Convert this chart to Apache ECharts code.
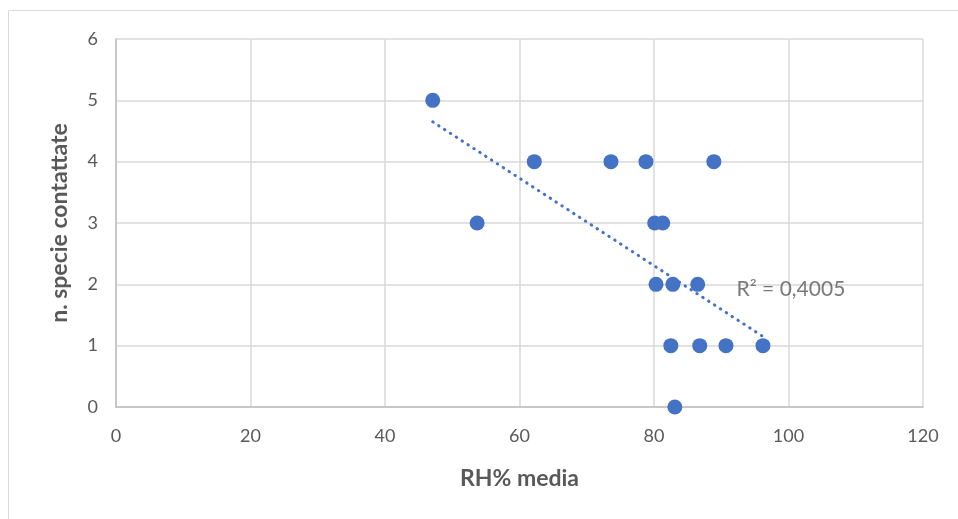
<!DOCTYPE html>
<html>
<head>
<meta charset="utf-8">
<script src="https://cdn.jsdelivr.net/npm/echarts@6/dist/echarts.min.js"></script>
<style>
html,body{margin:0;padding:0;background:#fff;}
#c{width:958px;height:519px;}
</style>
</head>
<body>
<div id="c"></div>
<script>
// Data
const rhMedia = [47.1, 53.7, 62.2, 73.6, 78.8, 88.9, 80.1, 81.3, 80.3, 82.8, 86.5, 82.5, 86.8, 90.7, 96.2, 83.1];
const nSpecie = [5, 3, 4, 4, 4, 4, 3, 3, 2, 2, 2, 1, 1, 1, 1, 0];
const trendX = [47.1, 96.2];
const trendY = [4.65, 1.15];
const r2Label = 'R² = 0,4005';
const r2Pos = [92.2, 1.92];
const xTicks = [0, 20, 40, 60, 80, 100, 120];
const yTicks = [0, 1, 2, 3, 4, 5, 6];

const points = rhMedia.map((x, i) => [x, nSpecie[i]]);
const trend = trendX.map((x, i) => [x, trendY[i]]);

const FONT = 'Lato, "Open Sans", "Liberation Sans", sans-serif';
const chart = echarts.init(document.getElementById('c'));
chart.setOption({
  animation: false,
  backgroundColor: '#fff',
  textStyle: { fontFamily: FONT },
  graphic: [{
    type: 'rect',
    shape: { x: 8.5, y: 10.5, width: 1000, height: 600 },
    style: { fill: 'none', stroke: '#d9d9d9', lineWidth: 1 },
    silent: true
  }],
  grid: { left: 116, right: 35, top: 39, bottom: 112, containLabel: false },
  xAxis: {
    type: 'value',
    min: xTicks[0], max: xTicks[xTicks.length - 1], interval: xTicks[1] - xTicks[0],
    name: 'RH% media', nameLocation: 'middle', nameGap: 60,
    nameTextStyle: { fontFamily: FONT, fontWeight: 'bold', fontSize: 23, color: '#595959' },
    axisLine: { show: true, lineStyle: { color: '#bfbfbf', width: 1.5 } },
    axisTick: { show: false },
    axisLabel: { fontFamily: FONT, fontSize: 18, color: '#595959', margin: 20 },
    splitLine: { show: true, lineStyle: { color: '#d9d9d9', width: 1.5 } }
  },
  yAxis: {
    type: 'value',
    min: yTicks[0], max: yTicks[yTicks.length - 1], interval: yTicks[1] - yTicks[0],
    name: 'n. specie contattate', nameLocation: 'middle', nameGap: 45,
    nameTextStyle: { fontFamily: FONT, fontWeight: 'bold', fontSize: 23, color: '#595959' },
    axisLine: { show: true, lineStyle: { color: '#bfbfbf', width: 1.5 } },
    axisTick: { show: false },
    axisLabel: { fontFamily: FONT, fontSize: 18, color: '#595959', margin: 18 },
    splitLine: { show: true, lineStyle: { color: '#d9d9d9', width: 1.5 } }
  },
  series: [
    {
      type: 'line',
      data: trend,
      symbol: 'none',
      lineStyle: { color: '#4472c4', width: 3, type: [0.5, 6.5], cap: 'round' },
      z: 2,
      silent: true
    },
    {
      type: 'scatter',
      data: points,
      symbol: 'circle',
      symbolSize: 15,
      itemStyle: { color: '#4472c4', opacity: 1 },
      z: 3
    },
    {
      type: 'scatter',
      data: [r2Pos],
      symbolSize: 1,
      itemStyle: { color: 'rgba(0,0,0,0)' },
      label: {
        show: true, position: 'right', distance: 0,
        formatter: r2Label,
        fontFamily: FONT, fontSize: 21, color: '#595959'
      },
      silent: true,
      z: 4
    }
  ]
});
</script>
</body>
</html>
